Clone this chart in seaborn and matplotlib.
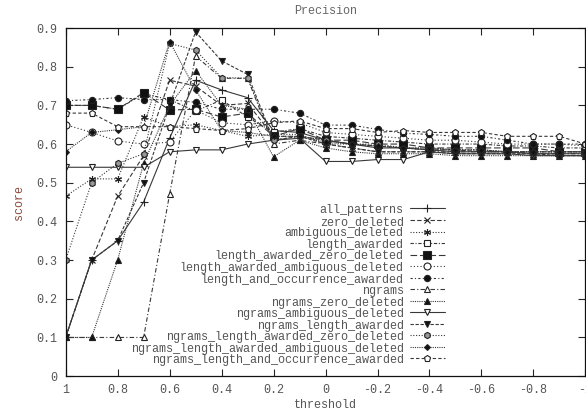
import matplotlib
matplotlib.use("Agg")
import matplotlib.pyplot as plt
import seaborn as sns
import pandas as pd

sns.set_style("ticks")
plt.rcParams['font.family'] = ['Liberation Mono', 'DejaVu Sans Mono']

thresholds = [1.0, 0.9, 0.8, 0.7, 0.6, 0.5, 0.4, 0.3, 0.2, 0.1, 0.0,
              -0.1, -0.2, -0.3, -0.4, -0.5, -0.6, -0.7, -0.8, -0.9, -1.0]

all_patterns = [0.10, 0.30, 0.35, 0.45, 0.615, 0.765, 0.74, 0.72, 0.635, 0.63, 0.61,
                0.60, 0.59, 0.59, 0.585, 0.58, 0.58, 0.58, 0.575, 0.575, 0.575]
zero_deleted = [0.10, 0.30, 0.465, 0.57, 0.765, 0.75, 0.70, 0.705, 0.62, 0.62, 0.61,
                0.60, 0.595, 0.59, 0.585, 0.585, 0.58, 0.58, 0.58, 0.58, 0.58]
ambiguous_deleted = [0.465, 0.51, 0.51, 0.67, 0.645, 0.65, 0.635, 0.62, 0.625, 0.625, 0.60,
                     0.60, 0.595, 0.59, 0.585, 0.585, 0.585, 0.58, 0.58, 0.58, 0.58]
length_awarded = [0.70, 0.70, 0.69, 0.73, 0.715, 0.685, 0.714, 0.67, 0.63, 0.64, 0.62,
                  0.615, 0.61, 0.605, 0.60, 0.60, 0.60, 0.595, 0.595, 0.59, 0.59]
length_awarded_zero_deleted = [0.70, 0.70, 0.69, 0.733, 0.688, 0.69, 0.67, 0.68, 0.62, 0.64, 0.61,
                               0.61, 0.60, 0.60, 0.59, 0.59, 0.59, 0.59, 0.59, 0.58, 0.58]
length_awarded_ambiguous_deleted = [0.65, 0.63, 0.608, 0.60, 0.605, 0.688, 0.655, 0.65, 0.66, 0.655, 0.63,
                                    0.625, 0.62, 0.615, 0.61, 0.61, 0.605, 0.60, 0.60, 0.60, 0.595]
length_and_occurrence_awarded = [0.712, 0.715, 0.72, 0.715, 0.715, 0.708, 0.69, 0.69, 0.69, 0.68, 0.649,
                                 0.649, 0.638, 0.628, 0.625, 0.62, 0.62, 0.61, 0.60, 0.60, 0.60]
ngrams = [0.10, 0.10, 0.10, 0.10, 0.47, 0.828, 0.77, 0.77, 0.60, 0.61, 0.60,
          0.59, 0.58, 0.58, 0.58, 0.58, 0.58, 0.58, 0.575, 0.575, 0.575]
ngrams_zero_deleted = [0.10, 0.10, 0.30, 0.55, 0.70, 0.79, 0.70, 0.69, 0.567, 0.61, 0.59,
                       0.58, 0.575, 0.575, 0.575, 0.57, 0.57, 0.57, 0.57, 0.57, 0.57]
ngrams_ambiguous_deleted = [0.54, 0.54, 0.54, 0.54, 0.58, 0.585, 0.585, 0.60, 0.61, 0.615, 0.555,
                            0.555, 0.56, 0.56, 0.58, 0.575, 0.575, 0.575, 0.57, 0.57, 0.57]
ngrams_length_awarded = [0.10, 0.30, 0.35, 0.50, 0.70, 0.89, 0.815, 0.78, 0.61, 0.62, 0.60,
                         0.59, 0.58, 0.58, 0.58, 0.575, 0.575, 0.575, 0.575, 0.57, 0.57]
ngrams_length_awarded_zero_deleted = [0.30, 0.50, 0.55, 0.575, 0.86, 0.843, 0.772, 0.77, 0.61, 0.62, 0.61,
                                      0.60, 0.60, 0.59, 0.59, 0.585, 0.585, 0.58, 0.58, 0.58, 0.58]
ngrams_length_awarded_ambiguous_deleted = [0.58, 0.63, 0.637, 0.645, 0.865, 0.74, 0.635, 0.63, 0.62, 0.62, 0.605,
                                           0.60, 0.595, 0.59, 0.59, 0.585, 0.585, 0.58, 0.58, 0.58, 0.58]
ngrams_length_and_occurrence_awarded = [0.68, 0.68, 0.645, 0.645, 0.645, 0.64, 0.635, 0.64, 0.655, 0.66, 0.64,
                                        0.64, 0.63, 0.635, 0.63, 0.63, 0.63, 0.62, 0.62, 0.62, 0.60]

series_names = ["all_patterns", "zero_deleted", "ambiguous_deleted", "length_awarded",
                "length_awarded_zero_deleted", "length_awarded_ambiguous_deleted",
                "length_and_occurrence_awarded", "ngrams", "ngrams_zero_deleted",
                "ngrams_ambiguous_deleted", "ngrams_length_awarded",
                "ngrams_length_awarded_zero_deleted",
                "ngrams_length_awarded_ambiguous_deleted",
                "ngrams_length_and_occurrence_awarded"]
series_values = [all_patterns, zero_deleted, ambiguous_deleted, length_awarded,
                 length_awarded_zero_deleted, length_awarded_ambiguous_deleted,
                 length_and_occurrence_awarded, ngrams, ngrams_zero_deleted,
                 ngrams_ambiguous_deleted, ngrams_length_awarded,
                 ngrams_length_awarded_zero_deleted,
                 ngrams_length_awarded_ambiguous_deleted,
                 ngrams_length_and_occurrence_awarded]

styles = [
    dict(ls='-', marker='+', mfc='#222', ms=6),
    dict(ls=(0, (4, 2)), marker='x', mfc='#222', ms=4.5),
    dict(ls=(0, (1, 1.5)), marker=(6, 2, 0), mfc='#222', ms=5),
    dict(ls=(0, (3, 1.5, 1, 1.5)), marker='s', mfc='white', ms=5),
    dict(ls=(0, (6, 2.5)), marker='s', mfc='#111', ms=5.5),
    dict(ls=(0, (1, 2)), marker='o', mfc='white', ms=5),
    dict(ls=(0, (2, 2, 1, 2)), marker='o', mfc='#111', ms=4.5),
    dict(ls=(0, (4, 2, 1, 2)), marker='^', mfc='white', ms=4.5),
    dict(ls=(0, (1, 1)), marker='^', mfc='#111', ms=4),
    dict(ls='-', marker='v', mfc='white', ms=4.5),
    dict(ls=(0, (3, 1.5)), marker='v', mfc='#111', ms=4),
    dict(ls=(0, (1, 1.5)), marker='h', mfc='#999', ms=4.5),
    dict(ls=(0, (1, 1)), marker='D', mfc='#111', ms=3),
    dict(ls=(0, (3, 2)), marker='p', mfc='white', ms=4.5),
]

fig = plt.figure(figsize=(5.86, 4.12), dpi=100)
ax = fig.add_axes([0.112, 0.087, 0.887, 0.845])

for name, vals, st in zip(series_names, series_values, styles):
    df = pd.DataFrame({"threshold": thresholds, "score": vals})
    sns.lineplot(data=df, x="threshold", y="score", ax=ax, label=name,
                 color='#383838', linewidth=0.8, linestyle=st['ls'],
                 marker=st['marker'], markerfacecolor=st['mfc'],
                 markeredgecolor='#222222', markersize=st['ms'],
                 markeredgewidth=0.8, estimator=None)

ax.set_xlim(1, -1)
ax.set_ylim(0, 0.9)
xt = [1, 0.8, 0.6, 0.4, 0.2, 0, -0.2, -0.4, -0.6, -0.8, -1]
ax.set_xticks(xt)
ax.set_xticklabels([f"{v:g}" for v in xt])
yt = [0, 0.1, 0.2, 0.3, 0.4, 0.5, 0.6, 0.7, 0.8, 0.9]
ax.set_yticks(yt)
ax.set_yticklabels([f"{v:g}" for v in yt])
ax.tick_params(direction='in', top=True, right=True, length=5, width=0.8,
               labelsize=8.5, labelcolor='#555555', pad=6)
for sp in ax.spines.values():
    sp.set_linewidth(0.9)
    sp.set_color('#111111')

ax.set_title("Precision", fontsize=8.5, color='#666666', pad=10)
ax.set_xlabel("threshold", fontsize=8.5, color='#555555', labelpad=2)
ax.set_ylabel("score", fontsize=8.5, color='#8b4a3a', labelpad=8)

leg = ax.legend(loc='lower right', bbox_to_anchor=(0.739, 0.015), markerfirst=False,
                frameon=False, fontsize=8.5, labelspacing=-0.04, handlelength=3.0,
                handletextpad=0.5, borderaxespad=0.0)
for t in leg.get_texts():
    t.set_ha('right')
    t.set_color('#555555')
leg._legend_box.align = "right"
for vp in leg._legend_handle_box.get_children():
    for c in vp.get_children():
        c.align = "right"

fig.savefig("out.png", dpi=100)
